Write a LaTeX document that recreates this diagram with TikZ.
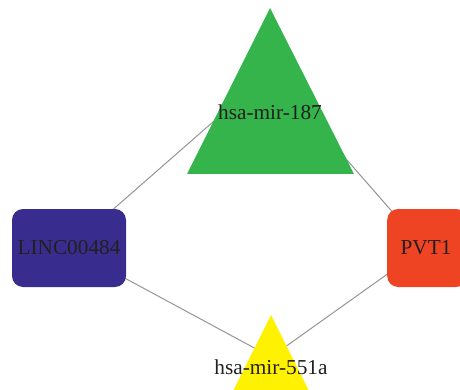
\documentclass[tikz,border=0pt]{standalone}
\usepackage{fontspec}
\setmainfont{Liberation Serif}
\definecolor{nodegreen}{HTML}{34B44A}
\definecolor{nodeblue}{HTML}{382D8E}
\definecolor{nodered}{HTML}{EE4424}
\definecolor{nodeyellow}{HTML}{FFF200}
\definecolor{edgegray}{HTML}{959595}
\definecolor{txt}{HTML}{231F20}
\pgfdeclarelayer{bg}
\pgfsetlayers{bg,main}
\begin{document}
\begin{tikzpicture}[x=1pt,y=-1pt,
  lbl/.style={text=txt, font=\fontsize{21.3}{25}\selectfont, inner sep=0pt},
  boxnode/.style={lbl, rectangle, rounded corners=11pt, minimum height=78pt},
  edge/.style={draw=edgegray, line width=1pt}]
\useasboundingbox (0,0) rectangle (460,390);
\clip (0,0) rectangle (460,390);
% triangles
\fill[nodegreen] (270,8) -- (354,174) -- (187,174) -- cycle;
\fill[nodeyellow] (271,315) -- (313,399) -- (229,399) -- cycle;
\node[lbl] (mir187) at (270,112) {hsa-mir-187};
\node[lbl] (mir551) at (271,367) {hsa-mir-551a};
\coordinate (mir187c) at (270,72);
\coordinate (mir551c) at (271,357);
% boxes
\node[boxnode, fill=nodeblue, minimum width=114pt] (linc) at (69,248) {LINC00484};
\node[boxnode, fill=nodered, minimum width=80pt, anchor=west] (pvt) at (387,248) {};
\node[lbl] (pvtlbl) at (426,248) {PVT1};
\coordinate (pvtc) at (424,248);
% edges
\begin{pgfonlayer}{bg}
\draw[edge] (linc.center) -- (mir187c);
\draw[edge] (mir187c) -- (pvtc);
\draw[edge] (linc.center) -- (mir551c);
\draw[edge] (pvtc) -- (mir551c);
\end{pgfonlayer}
\end{tikzpicture}
\end{document}
